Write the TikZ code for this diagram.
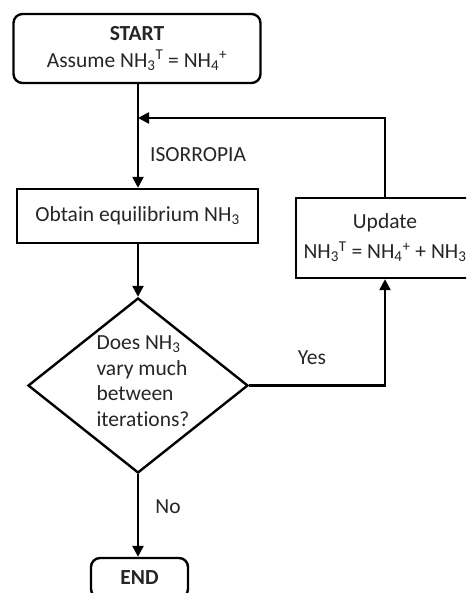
\documentclass[tikz,border=0pt]{standalone}
\usepackage{fontspec}
\setmainfont[Ligatures=NoCommon]{Carlito}
\usetikzlibrary{shapes.geometric,arrows.meta}
\tikzset{
  box/.style={draw=black,line width=2.4pt,fill=white,inner sep=0pt},
  rbox/.style={box,rounded corners=9pt},
  lbl/.style={inner sep=0pt},
  arr/.style={line width=2.4pt,-{Triangle[length=11pt,width=11pt]}},
  ln/.style={line width=2.4pt}
}
\begin{document}
\begin{tikzpicture}[x=1pt,y=-1pt,font=\fontsize{21.5}{27}\selectfont,text=black!85]
\clip (0,0) rectangle (466,593);
\fill[white] (0,0) rectangle (466,593);
\node[rbox,minimum width=247pt,minimum height=69pt,align=center] (start) at (137,48.5)
  {\textbf{START}\\Assume NH\textsubscript{3}\textsuperscript{T} = NH\textsubscript{4}\textsuperscript{+}};
\node[box,minimum width=241pt,minimum height=54pt] (obtain) at (137.5,216)
  {Obtain equilibrium NH\textsubscript{3}};
\node[box,minimum width=178pt,minimum height=80pt,align=center,font=\fontsize{21.5}{30}\selectfont] (update) at (385,238)
  {Update\\NH\textsubscript{3}\textsuperscript{T} = NH\textsubscript{4}\textsuperscript{+} + NH\textsubscript{3}};
\node[diamond,draw=black,line width=2.4pt,inner sep=0pt,minimum width=220pt,minimum height=175pt] (dec) at (138,385.5) {};
\node[lbl,align=left,font=\fontsize{21.5}{25.5}\selectfont] (dectext) at (143,381)
  {Does NH\textsubscript{3}\\vary much\\between\\iterations?};
\node[rbox,minimum width=97pt,minimum height=40pt,font=\fontsize{21.5}{24}\bfseries] (end) at (139.5,578) {END};
\coordinate (join) at (138,118);
\node[lbl,anchor=west] (iso) at (150,155) {ISORROPIA};
\node[lbl] (yes) at (312,358) {Yes};
\node[lbl] (no) at (168,507) {No};
\draw[arr] (start.south -| join) -- (obtain.north -| join);
\draw[arr] (update.north) |- (join);
\draw[arr] (obtain.south -| dec.north) -- (dec.north);
\draw[arr] (dec.east) -| (update.south);
\draw[arr] (dec.south) -- (end.north -| dec.south);
\end{tikzpicture}
\end{document}
